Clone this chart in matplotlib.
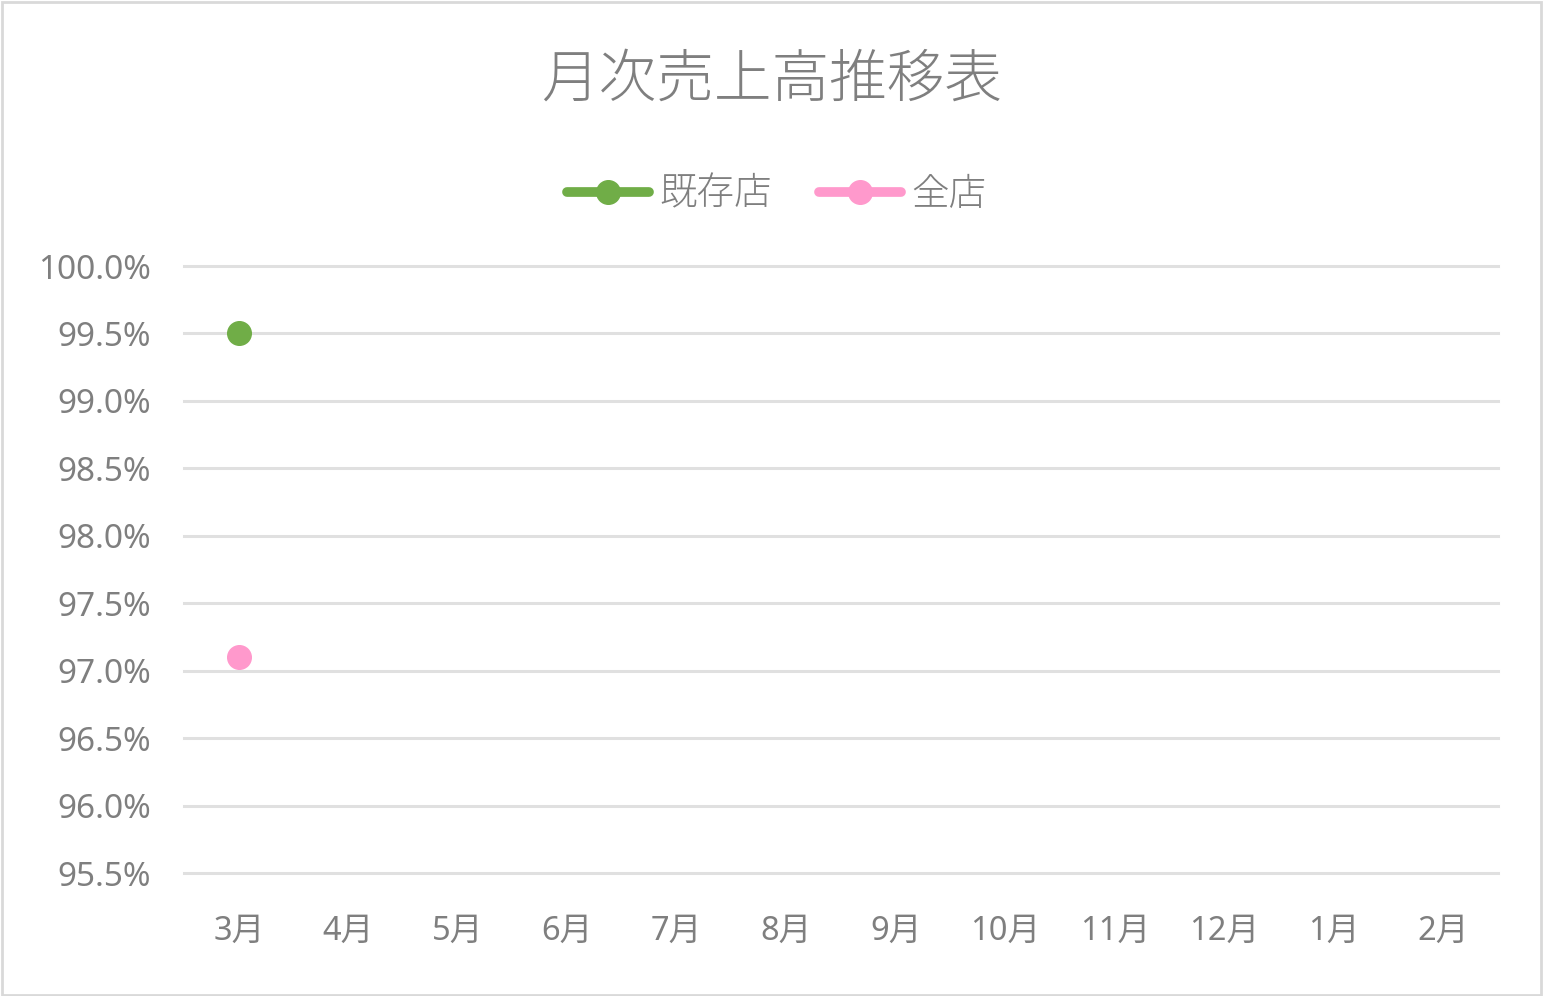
import matplotlib
matplotlib.use("Agg")
import matplotlib.pyplot as plt
from matplotlib.patches import Rectangle
import numpy as np

plt.rcParams['font.family'] = ['Noto Sans CJK JP', 'DejaVu Sans']
plt.rcParams['font.weight'] = 'light'

months = ["3月", "4月", "5月", "6月", "7月", "8月", "9月", "10月", "11月", "12月", "1月", "2月"]
existing = [0.995] + [np.nan] * 11
all_stores = [0.971] + [np.nan] * 11
yticks = [0.955, 0.960, 0.965, 0.970, 0.975, 0.980, 0.985, 0.990, 0.995, 1.000]

green = "#70AD47"
pink = "#FF99CC"
gray = "#7F7F7F"
tick_family = ['Noto Sans', 'Noto Sans CJK JP', 'DejaVu Sans']

fig = plt.figure(figsize=(15.44, 9.96), dpi=100)
ax = fig.add_axes([184/1544, 1 - 873/996, (1498-184)/1544, (873-266)/996])

x = np.arange(len(months))
ax.plot(x, existing, color=green, lw=7, marker='o', ms=17, label="既存店", solid_capstyle='round')
ax.plot(x, all_stores, color=pink, lw=7, marker='o', ms=17, label="全店", solid_capstyle='round')

ax.set_xlim(-0.5, len(months) - 0.5)
ax.set_ylim(0.955, 1.000)
ax.set_yticks(yticks)
ax.set_yticklabels([f"{v*100:.1f}%" for v in yticks], fontsize=24, color=gray,
                   family=tick_family, fontweight='normal')
ax.set_xticks(x)
ax.set_xticklabels(months, fontsize=23.5, color=gray, family=tick_family, fontweight='normal')
ax.tick_params(axis='both', length=0)
ax.tick_params(axis='y', pad=24)
ax.tick_params(axis='x', pad=30)
ax.grid(axis='y', color="#E0E0E0", lw=2.2)
for gl in ax.yaxis.get_gridlines():
    gl.set_clip_on(False)
ax.set_axisbelow(True)
for s in ax.spines.values():
    s.set_visible(False)

fig.text(0.5, 1 - 80/996, "月次売上高推移表", ha='center', va='center', fontsize=41.5, color=gray)

leg = fig.legend(loc='center', bbox_to_anchor=(0.503, 1 - 194/996), ncol=2, frameon=False,
                 fontsize=27, labelcolor=gray, handlelength=2.2, columnspacing=1.25,
                 handletextpad=0.27, markerscale=1.0)

fig.patches.append(Rectangle((0.001, 0.001), 0.997, 0.997, transform=fig.transFigure,
                             fill=False, edgecolor="#D9D9D9", lw=2))

fig.savefig("out.png", dpi=100, facecolor='white')
